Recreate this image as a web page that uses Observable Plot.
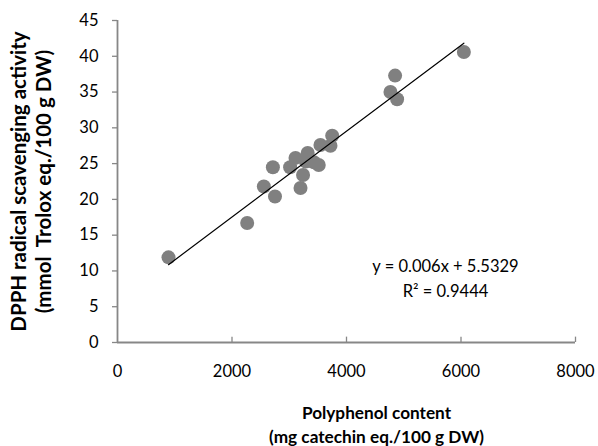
<!DOCTYPE html>
<html><head><meta charset="utf-8">
<script src="https://cdn.jsdelivr.net/npm/d3@7"></script>
<script src="https://cdn.jsdelivr.net/npm/@observablehq/plot@0.6"></script>
<style>body{margin:0;background:#fff}</style>
</head><body><div id="chart"></div>
<script>
const polyphenol = [891, 2265, 2556, 2714, 2751, 3015, 3109, 3197, 3241, 3290, 3322, 3430, 3515, 3545, 3720, 3750, 4768, 4849, 4884, 6050];
const dpph = [11.9, 16.7, 21.8, 24.5, 20.4, 24.5, 25.8, 21.6, 23.4, 25.3, 26.5, 25.2, 24.8, 27.6, 27.5, 28.9, 35.0, 37.3, 34.0, 40.6];
const slope = 0.006, intercept = 5.5329, r2 = 0.9444;
const xTicks = [0, 2000, 4000, 6000, 8000];
const yTicks = [0, 5, 10, 15, 20, 25, 30, 35, 40, 45];
const xTitle = "Polyphenol content\n(mg catechin eq./100 g DW)";
const yTitle = "DPPH radical scavenging activity\n(mmol\u00a0 Trolox eq./100 g DW)";
const eqText = "y = 0.006x + 5.5329\nR\u00b2 = 0.9444";

const pts = polyphenol.map((x, i) => ({x, y: dpph[i]}));
const xmin = d3.min(polyphenol), xmax = d3.max(polyphenol);
const fit = [xmin, xmax].map(x => ({x, y: slope * x + intercept}));
const font = "Lato, 'Open Sans', sans-serif";
const gray = "#878787";

const chart = Plot.plot({
  width: 598, height: 446,
  marginLeft: 117, marginRight: 23, marginTop: 20, marginBottom: 104,
  style: {fontFamily: font, fontSize: "16px", color: "#000", background: "#fff"},
  x: {domain: [0, 8000]},
  y: {domain: [0, 45]},
  marks: [
    Plot.axisX(xTicks, {tickSize: 0, tickPadding: 23, label: null, fontSize: 16.5, tickFormat: d => String(d)}),
    Plot.axisY(yTicks, {tickSize: 5, tickPadding: 14, label: null, fontSize: 16.5, stroke: gray, strokeWidth: 1.3, color: "#000"}),
    Plot.ruleX(xTicks.slice(1), {x: d => d, y1: 0, y2: 0.75, stroke: gray, strokeWidth: 1.3}),
    Plot.ruleY([0], {stroke: gray, strokeWidth: 1.8}),
    Plot.ruleX([0], {stroke: gray, strokeWidth: 1.8}),
    Plot.dot(pts, {x: "x", y: "y", r: 7, fill: "#808080", stroke: "none"}),
    Plot.line(fit, {x: "x", y: "y", stroke: "#000", strokeWidth: 1.2}),
    Plot.text([eqText], {x: 5729, y: 9.2, text: d => d, fontSize: 16.5, lineHeight: 1.5, textAnchor: "middle", fill: "#000"}),
    Plot.text([xTitle], {frameAnchor: "bottom", textAnchor: "middle", dx: 30, dy: 60, lineAnchor: "top", fontWeight: "bold", fontSize: 17.2, lineHeight: 1.38, fill: "#000"}),
    Plot.text([yTitle], {frameAnchor: "left", textAnchor: "middle", lineAnchor: "middle", dx: -87, rotate: -90, fontWeight: "bold", fontSize: 20.5, lineHeight: 1.22, fill: "#000"})
  ]
});
document.getElementById("chart").append(chart);
</script></body></html>
